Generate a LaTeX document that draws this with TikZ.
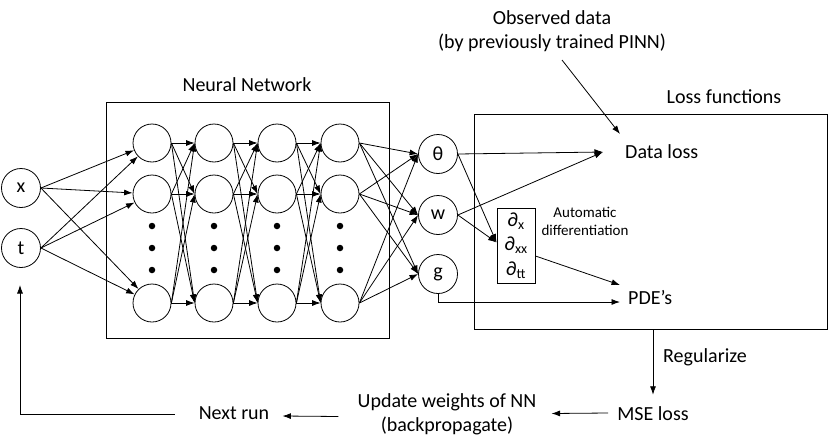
\documentclass[tikz,border=0pt]{standalone}
\usepackage{fontspec}
\setmainfont{Carlito}
\usetikzlibrary{arrows.meta,calc}
\begin{document}
\begin{tikzpicture}[x=1pt,y=-1pt,
  every node/.style={font=\fontsize{20}{24.5}\selectfont},
  neuron/.style={circle,draw,line width=0.8pt,minimum size=38pt,inner sep=0pt},
  io/.style={circle,draw,line width=0.8pt,minimum size=39pt,inner sep=0pt},
  conn/.style={line width=0.8pt,-{Latex[length=8.5pt,width=6pt]}},
  frame/.style={draw,line width=1pt,inner sep=0pt},
  lbl/.style={inner sep=0pt},
  smalllbl/.style={inner sep=0pt,font=\fontsize{15}{17.5}\selectfont,align=center},
  dotnode/.style={circle,fill,inner sep=0pt,minimum size=6.5pt}]
\useasboundingbox (0,0) rectangle (829,447);

% inputs
\node[io] (x) at (21,188) {x};
\node[io] (t) at (21,248) {t};

% neural network frame
\node[frame,minimum width=283pt,minimum height=236pt] (nnbox) at (247.5,220) {};
\node[lbl] (nnttl) at (247,85) {Neural Network};

\foreach \c/\xx in {1/152,2/214,3/277,4/340}{
  \foreach \r/\yy in {1/143,2/194,3/303}
    \node[neuron] (n\c\r) at (\xx,\yy) {};
  \foreach \k/\yy in {1/226,2/248,3/270}
    \node[dotnode] (d\c\k) at (\xx,\yy) {};
}

% outputs
\node[io] (th) at (438,154) {θ};
\node[io] (w) at (438,215) {w};
\node[io] (g) at (438,274) {g};

% connections
\foreach \s in {x,t}
  \foreach \r in {1,2,3}
    \draw[conn] (\s.east) -- (n1\r);
\foreach \c/\d in {1/2,2/3,3/4}
  \foreach \a in {1,2,3}
    \foreach \b in {1,2,3}
      \draw[conn] (n\c\a.east) -- (n\d\b.west);
\foreach \a in {1,2,3}
  \foreach \o in {th,w,g}
    \draw[conn] (n4\a.east) -- (\o.west);

% loss functions
\node[frame,minimum width=353pt,minimum height=215pt] (loss) at (650.5,221.5) {};
\node[lbl] (lossttl) at (724,97) {Loss functions};
\node[lbl,align=center] (obs) at (552,31) {Observed data\\(by previously trained PINN)};
\node[lbl,anchor=west] (dl) at (625,152) {Data loss};
\node[draw,line width=0.9pt,minimum width=38pt,minimum height=75pt,inner sep=0pt,align=center] (diff) at (516,245.5)
  {∂\textsubscript{x}\\∂\textsubscript{xx}\\∂\textsubscript{tt}};
\node[smalllbl] (ad) at (585,221.5) {Automatic\\differentiation};
\node[lbl,anchor=west] (pde) at (628,298) {PDE’s};

\draw[conn] (th.east) -- ($(dl.west)+(-22,0)$);
\draw[conn] (w.east) -- ($(dl.west)+(-22,0)$);
\draw[conn] ($(obs.south)+(10,8)$) -- ($(dl.west)+(-5,-18)$);
\draw[conn] (th.east) -- ($(diff.west)+(0,-3)$);
\draw[conn] (w.east) -- ($(diff.west)+(0,-3)$);
\draw[conn] ($(diff.east)+(0,10.5)$) -- ($(pde.west)+(-8,-13)$);
\draw[conn] (g.south) |- ($(pde.west)+(-8,4)$);

% bottom loop
\node[lbl] (mse) at (653,414) {MSE loss};
\node[lbl,anchor=west] (reg) at (663,357) {Regularize};
\node[lbl,align=center] (upd) at (447,414.5) {Update weights of NN\\(backpropagate)};
\node[lbl] (next) at (234,413) {Next run};
\coordinate (fb) at (20,285);

\draw[conn] (loss.south -| mse.north) -- ($(mse.north)+(0,-12)$);
\draw[conn] ($(mse.west)+(-9,-1)$) -- ($(upd.east)+(15,-1)$);
\draw[conn] ($(upd.west)+(-19,2)$) -- ($(next.east)+(13,3)$);
\draw[conn] ($(next.west)+(-24,1)$) -| (fb);
\end{tikzpicture}
\end{document}
